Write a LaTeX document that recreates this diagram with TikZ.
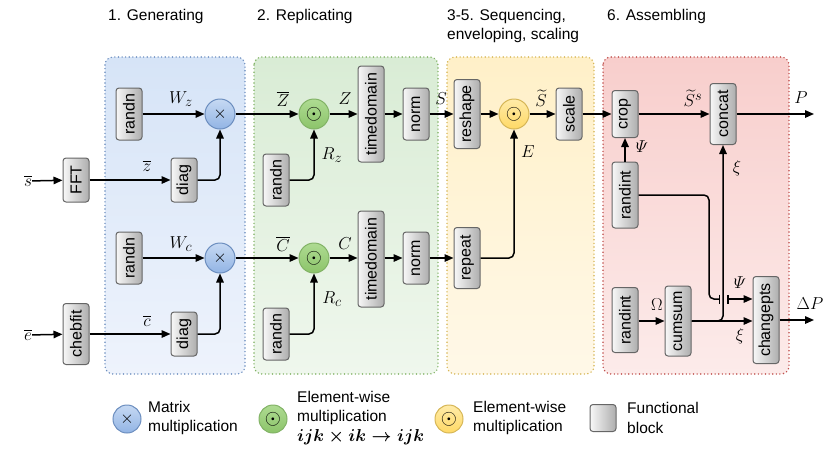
\documentclass[tikz,border=0pt]{standalone}
\usepackage{amsmath}
\usepackage{graphicx}
\usepackage{fontspec}
\setmainfont{Liberation Sans}
\usetikzlibrary{arrows.meta,calc}
\definecolor{bpT}{HTML}{D6E4F7}\definecolor{bpB}{HTML}{EEF3FC}\definecolor{bpD}{HTML}{6C8EBF}
\definecolor{gpT}{HTML}{D9ECD5}\definecolor{gpB}{HTML}{EFF7ED}\definecolor{gpD}{HTML}{82B366}
\definecolor{ypT}{HTML}{FFF0C8}\definecolor{ypB}{HTML}{FFF8E8}\definecolor{ypD}{HTML}{D6B656}
\definecolor{rpT}{HTML}{F8CECC}\definecolor{rpB}{HTML}{FCEBEA}\definecolor{rpD}{HTML}{C0504D}
\definecolor{bcT}{HTML}{C6D9F3}\definecolor{bcB}{HTML}{92B4E4}
\definecolor{gcT}{HTML}{AEDB92}\definecolor{gcB}{HTML}{8CC46A}
\definecolor{ycT}{HTML}{FFEBA8}\definecolor{ycB}{HTML}{FFD966}
\begin{document}
\begin{tikzpicture}[x=1pt,y=-1pt,
  >={Triangle[length=9pt,width=7.5pt]},
  conn/.style={line width=1.5pt,->},
  wire/.style={line width=1.5pt,rounded corners=5pt},
  fblock/.style={draw=black!60,line width=1pt,rounded corners=3pt,left color=black!3,right color=black!32,
    minimum width=26pt,inner sep=0pt,font=\fontsize{16}{18}\selectfont},
  panel/.style={line width=1.6pt,dash pattern=on 0pt off 3.6pt,line cap=round,rounded corners=8pt},
  mult/.style={circle,line width=1pt,minimum size=30pt,inner sep=0pt},
  bmult/.style={mult,draw=bpD,top color=bcT,bottom color=bcB,font=\fontsize{16}{16}\selectfont},
  gmult/.style={mult,draw=gpD,top color=gcT,bottom color=gcB,font=\fontsize{20}{20}\selectfont},
  ymult/.style={mult,draw=ypD,top color=ycT,bottom color=ycB,font=\fontsize{20}{20}\selectfont},
  lab/.style={inner sep=0pt,font=\fontsize{19}{22}\selectfont},
  ttl/.style={anchor=base west,inner sep=0pt,font=\fontsize{15.5}{19}\selectfont},
  leg/.style={anchor=west,align=left,inner sep=0pt,font=\fontsize{15.5}{19.5}\selectfont}
]
\useasboundingbox (0,0) rectangle (830,459);
% panels
\draw[panel,draw=bpD,top color=bpT,bottom color=bpB] (105,57) rectangle (245,374);
\draw[panel,draw=gpD,top color=gpT,bottom color=gpB] (254,57) rectangle (438,374);
\draw[panel,draw=ypD,top color=ypT,bottom color=ypB] (447,57) rectangle (594,374);
\draw[panel,draw=rpD,top color=rpT,bottom color=rpB] (603,57) rectangle (789,374);
% titles
\node[ttl] (t1) at (108,20) {1. Generating};
\node[ttl] (t2) at (257,20) {2. Replicating};
\node[ttl] (t3a) at (447,20) {3-5. Sequencing,};
\node[ttl] (t3b) at (447,39) {enveloping, scaling};
\node[ttl] (t4) at (607,20) {6. Assembling};
% generating
\node[lab] (sin) at (28,181) {$\overline{s}$};
\node[fblock,minimum height=44pt] (fft) at (76,180) {\rotatebox{90}{FFT}};
\node[fblock,minimum height=52pt] (randn1) at (129,114) {\rotatebox{90}{randn}};
\node[fblock,minimum height=44pt] (diag1) at (184,180) {\rotatebox{90}{diag}};
\node[bmult] (mx1) at (220,114) {$\times$};
\node[lab] (ein) at (28,335) {$\overline{e}$};
\node[fblock,minimum height=61pt] (cheb) at (76,334) {\rotatebox{90}{chebfit}};
\node[fblock,minimum height=52pt] (randn2) at (129,258) {\rotatebox{90}{randn}};
\node[fblock,minimum height=44pt] (diag2) at (184,334) {\rotatebox{90}{diag}};
\node[bmult] (mx2) at (220,258) {$\times$};
% replicating
\node[gmult] (od1) at (314,114) {$\odot$};
\node[fblock,minimum height=52pt] (randn3) at (276,180) {\rotatebox{90}{randn}};
\node[fblock,minimum height=96pt] (td1) at (371,114) {\rotatebox{90}{timedomain}};
\node[fblock,minimum height=52pt] (norm1) at (416,114) {\rotatebox{90}{norm}};
\node[gmult] (od2) at (314,258) {$\odot$};
\node[fblock,minimum height=52pt] (randn4) at (276,334) {\rotatebox{90}{randn}};
\node[fblock,minimum height=96pt] (td2) at (371,259) {\rotatebox{90}{timedomain}};
\node[fblock,minimum height=52pt] (norm2) at (416,258) {\rotatebox{90}{norm}};
% sequencing
\node[fblock,minimum height=69pt] (reshape) at (467,114) {\rotatebox{90}{reshape}};
\node[ymult] (od3) at (514,114) {$\odot$};
\node[fblock,minimum height=52pt] (scale) at (569,114) {\rotatebox{90}{scale}};
\node[fblock,minimum height=61pt] (repeat) at (467,258) {\rotatebox{90}{repeat}};
% assembling
\node[fblock,minimum height=47pt] (crop) at (625,114) {\rotatebox{90}{crop}};
\node[fblock,minimum height=61pt] (concat) at (723,114) {\rotatebox{90}{concat}};
\node[fblock,minimum height=66pt] (randint1) at (625,195) {\rotatebox{90}{randint}};
\node[fblock,minimum height=65pt] (randint2) at (625,320) {\rotatebox{90}{randint}};
\node[fblock,minimum height=70pt] (cumsum) at (678,321) {\rotatebox{90}{cumsum}};
\node[fblock,minimum height=87pt] (chg) at (766,320) {\rotatebox{90}{changepts}};
\coordinate (Pend) at (814,114);
\coordinate (Dend) at (814,320);
\coordinate (k1) at (709,299);
\coordinate (barA) at (720,299);
\coordinate (barB) at (727,299);
% connectors
\draw[conn] (sin) -- (fft);
\draw[conn] (fft) -- (diag1);
\draw[conn] (randn1) -- (mx1);
\draw[conn,wire] (diag1.east) -| (mx1.south);
\draw[conn] (mx1) -- (od1);
\draw[conn] (ein) -- (cheb);
\draw[conn] (cheb.east |- diag2) -- (diag2);
\draw[conn] (randn2) -- (mx2);
\draw[conn,wire] (diag2.east) -| (mx2.south);
\draw[conn] (mx2) -- (od2);
\draw[conn,wire] (randn3.east) -| (od1.south);
\draw[conn] (od1) -- (td1);
\draw[conn] (td1) -- (norm1);
\draw[conn] (norm1) -- (reshape);
\draw[conn,wire] (randn4.east) -| (od2.south);
\draw[conn] (od2) -- (td2.west |- od2);
\draw[conn] (td2.east |- norm2) -- (norm2);
\draw[conn] (norm2) -- (repeat);
\draw[conn] (reshape) -- (od3);
\draw[conn] (od3) -- (scale);
\draw[conn,wire] (repeat.east) -| (od3.south);
\draw[conn] (scale) -- (crop);
\draw[conn] (crop) -- (concat);
\draw[conn] (concat) -- (Pend);
\draw[conn] (randint1) -- (crop);
\draw[wire,-{Bar[width=9pt]}] (randint1.east) -| (k1) -- (barA);
\draw[line width=1.5pt,{Bar[width=9pt]}->] (barB) -- (chg.west |- barB);
\draw[conn] (randint2.east |- cumsum) -- (cumsum);
\draw[conn] (cumsum.east) -- (chg.west |- cumsum.east);
\draw[conn,wire] (cumsum.east) -| (concat.south);
\draw[conn] (chg.east |- Dend) -- (Dend);
% labels
\node[lab] (lz) at (147,166) {$\overline{z}$};
\node[lab] (lwz) at (181,99) {$W_z$};
\node[lab] (lc) at (147,321) {$\overline{c}$};
\node[lab] (lwc) at (181,244) {$W_c$};
\node[lab] (lZb) at (283,99) {$\overline{Z}$};
\node[lab] (lRz) at (332,155) {$R_z$};
\node[lab] (lZ) at (345,99) {$Z$};
\node[lab] (lS) at (441,99) {$S$};
\node[lab] (lCb) at (283,244) {$\overline{C}$};
\node[lab] (lRc) at (332,299) {$R_c$};
\node[lab] (lC) at (345,244) {$C$};
\node[lab] (lSt) at (541,98) {$\widetilde{S}$};
\node[lab] (lE) at (528,152) {$E$};
\node[lab] (lSs) at (693,98) {$\widetilde{S}^s$};
\node[lab] (lP) at (801,98) {$P$};
\node[lab] (lPsi1) at (642,147) {$\varPsi$};
\node[lab] (lxi1) at (737,168) {$\xi$};
\node[lab] (lPsi2) at (740,283) {$\varPsi$};
\node[lab] (lOm) at (657,305) {$\Omega$};
\node[lab] (lxi2) at (740,336) {$\xi$};
\node[lab] (lDP) at (810,304) {$\Delta P$};
% legend
\node[bmult,minimum size=28pt] (g1) at (127,419) {$\times$};
\node[leg] (g1t) at (148,418) {Matrix\\multiplication};
\node[gmult,minimum size=28pt] (g2) at (273,419) {$\odot$};
\node[leg] (g2t) at (297,418) {Element-wise\\multiplication\\{\fontsize{17}{19.5}\selectfont\boldmath$ijk\times ik\to ijk$}};
\node[ymult,minimum size=28pt] (g3) at (449,419) {$\odot$};
\node[leg] (g3t) at (473,418) {Element-wise\\multiplication};
\node[fblock,minimum height=27pt] (g4) at (603,418) {};
\node[leg] (g4t) at (627,418) {Functional\\block};
\end{tikzpicture}
\end{document}
